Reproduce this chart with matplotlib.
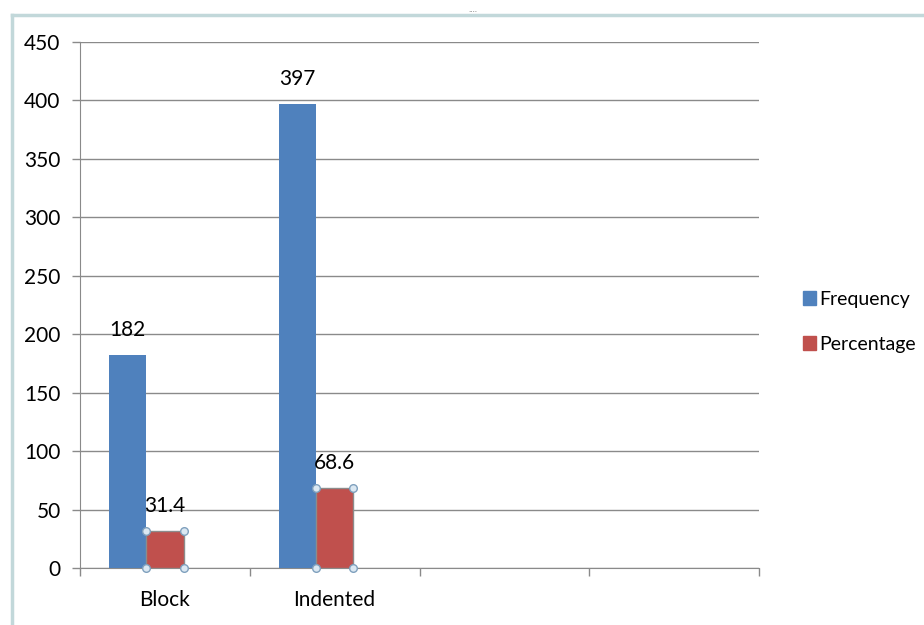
import matplotlib
matplotlib.use("Agg")
import matplotlib.pyplot as plt
from matplotlib.lines import Line2D
from matplotlib.patches import Patch
import numpy as np

categories = ["Block", "Indented", "", ""]
frequency = [182, 397]
percentage = [31.4, 68.6]
freq_labels = ["182", "397"]
pct_labels = ["31.4", "68.6"]
yticks = [0, 50, 100, 150, 200, 250, 300, 350, 400, 450]

plt.rcParams['font.family'] = ['Lato', 'DejaVu Sans']
fs = 15

fig = plt.figure(figsize=(9.24, 6.25), dpi=100)
ax = fig.add_axes([80/924, 1-568/625, 679/924, 526/625])

blue = "#4F81BD"
red = "#C0504D"
w = 0.22
x = np.arange(len(frequency)) + 0.5

# third (empty) series slot pushes the pair left, like in excel
ax.bar(x - 1.5*w, frequency, width=w, align="edge", color=blue, zorder=3)
ax.bar(x - 0.5*w, percentage, width=w, align="edge", color=red, edgecolor="#8c8c8c",
       linewidth=1, joinstyle="miter", zorder=3)

# selection handles on red bars
for xi, v in zip(x - 0.5*w, percentage):
    ax.plot([xi, xi + w, xi, xi + w], [0, 0, v, v], "o", ms=5.5,
            mfc="#dbe8f2", mec="#7fa0bd", mew=1, zorder=5, clip_on=False)

for xi, v, s in zip(x - w, frequency, freq_labels):
    ax.text(xi, v + 13, s, ha="center", va="bottom", fontsize=fs)
for xi, v, s in zip(x, percentage, pct_labels):
    ax.text(xi, v + 13, s, ha="center", va="bottom", fontsize=fs)

ax.set_xlim(0, len(categories))
ax.set_ylim(0, 450)
ax.set_yticks(yticks)
ax.set_yticklabels([str(t) for t in yticks], fontsize=fs)
ax.set_xticks(np.arange(len(categories) + 1))
ax.set_xticklabels([])
for i, c in enumerate(categories):
    ax.text(i + 0.5, -19, c, ha="center", va="top", fontsize=fs,
            transform=ax.transData)

ax.grid(axis="y", color="#8a8a8a", linewidth=1, zorder=0)
for sp in ["top", "right"]:
    ax.spines[sp].set_visible(False)
for sp in ["left", "bottom"]:
    ax.spines[sp].set_color("#8a8a8a")
ax.tick_params(axis="both", direction="out", length=6, color="#8a8a8a",
               width=1, pad=6)
ax.tick_params(axis="y", pad=8)

handles = [Patch(color=blue, label="Frequency"), Patch(color=red, label="Percentage")]
fig.legend(handles=handles, loc="center left", bbox_to_anchor=(785/924, 1-322/625),
           frameon=False, fontsize=14, handlelength=0.7, handleheight=0.7,
           handletextpad=0.15, labelspacing=1.45)

# chart frame
fig.add_artist(Line2D([12/924, 1], [1-15/625, 1-15/625], color="#c2d8da", lw=2.5))
fig.add_artist(Line2D([12/924, 12/924], [0, 1-15/625], color="#c2d8da", lw=2.5))
fig.text(473/924, 1-10/625, "....", ha="center", va="center", fontsize=7, color="#777777")

fig.savefig("out.png", dpi=100)
